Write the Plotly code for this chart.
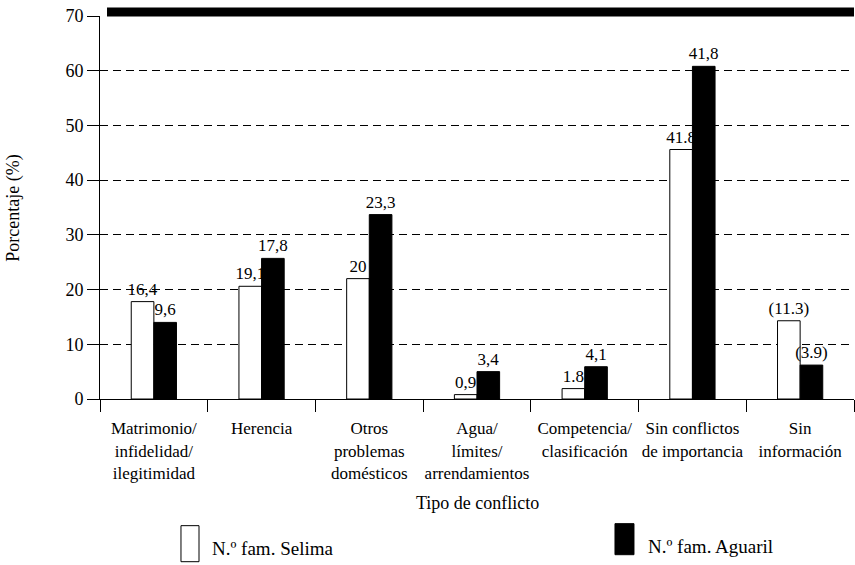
import plotly.graph_objects as go

categories = ["Matrimonio/<br>infidelidad/<br>ilegitimidad", "Herencia", "Otros<br>problemas<br>domésticos",
              "Agua/<br>límites/<br>arrendamientos", "Competencia/<br>clasificación",
              "Sin conflictos<br>de importancia", "Sin<br>información"]
selima_values = [17.8, 20.6, 22.0, 0.8, 1.9, 45.6, 14.3]
aguaril_values = [14.0, 25.7, 33.7, 5.0, 5.9, 60.8, 6.2]
selima_labels = ["16,4", "19,1", "20", "0,9", "1.8", "41.8", "(11.3)"]
aguaril_labels = ["9,6", "17,8", "23,3", "3,4", "4,1", "41,8", "(3.9)"]
series_names = ["N.º fam. Selima", "N.º fam. Aguaril"]
y_ticks = [0, 10, 20, 30, 40, 50, 60, 70]

FONT = "Liberation Serif"

fig = go.Figure()
fig.add_trace(go.Bar(x=categories, y=selima_values, text=selima_labels, name=series_names[0],
                     marker=dict(color="white", line=dict(color="black", width=1)),
                     textposition="outside", constraintext="none", cliponaxis=False,
                     textfont=dict(family=FONT, size=17, color="black")))
fig.add_trace(go.Bar(x=categories, y=aguaril_values, text=aguaril_labels, name=series_names[1],
                     marker=dict(color="black", line=dict(color="black", width=1)),
                     textposition="outside", constraintext="none", cliponaxis=False,
                     textfont=dict(family=FONT, size=17, color="black")))

fig.update_layout(
    width=855, height=565,
    margin=dict(l=100, r=1, t=16, b=166, autoexpand=False),
    paper_bgcolor="white", plot_bgcolor="white",
    barmode="group", bargap=0.58, bargroupgap=0,
    showlegend=False,
    font=dict(family=FONT, size=17, color="black"),
    xaxis=dict(showline=True, linecolor="black", linewidth=1, ticks="outside", tickson="boundaries",
               ticklen=12, tickcolor="black", showgrid=False, range=[-0.5, 6.5], automargin=False,
               ticklabelstandoff=14, tickangle=0,
               tickfont=dict(family=FONT, size=17, color="black")),
    yaxis=dict(range=[0, 70], tickvals=y_ticks, showline=True, linecolor="black", linewidth=1,
               ticks="outside", ticklen=12, tickcolor="black", showgrid=True, gridcolor="black",
               gridwidth=1, griddash="8px,5px", zeroline=False, automargin=False,
               tickfont=dict(family=FONT, size=18, color="black")),
)

# thick top border
fig.add_shape(type="rect", xref="paper", yref="paper", x0=0.0093, x1=1.0, y0=0.999, y1=1.022,
              fillcolor="black", line=dict(width=0))

# axis titles
fig.add_annotation(text="Tipo de conflicto", xref="paper", yref="paper", x=0.5, y=-0.2706,
                   showarrow=False, font=dict(family=FONT, size=18), xanchor="center", yanchor="middle")
fig.add_annotation(text="Porcentaje (%)", xref="paper", yref="paper", x=-0.114, y=0.497,
                   showarrow=False, textangle=-90, font=dict(family=FONT, size=18),
                   xanchor="center", yanchor="middle")

# custom legend
fig.add_shape(type="rect", xref="paper", yref="paper", x0=0.1074, x1=0.1313, y0=-0.4248, y1=-0.3307,
              fillcolor="white", line=dict(color="black", width=1))
fig.add_shape(type="rect", xref="paper", yref="paper", x0=0.683, x1=0.7082, y0=-0.4065, y1=-0.3255,
              fillcolor="black", line=dict(color="black", width=1))
fig.add_annotation(text=series_names[0], xref="paper", yref="paper", x=0.1459, y=-0.3908,
                   showarrow=False, font=dict(family=FONT, size=19), xanchor="left", yanchor="middle")
fig.add_annotation(text=series_names[1], xref="paper", yref="paper", x=0.7241, y=-0.3856,
                   showarrow=False, font=dict(family=FONT, size=19), xanchor="left", yanchor="middle")

fig.write_html("out.html", config={"displayModeBar": False},
               post_script="document.body.style.margin='0';")
